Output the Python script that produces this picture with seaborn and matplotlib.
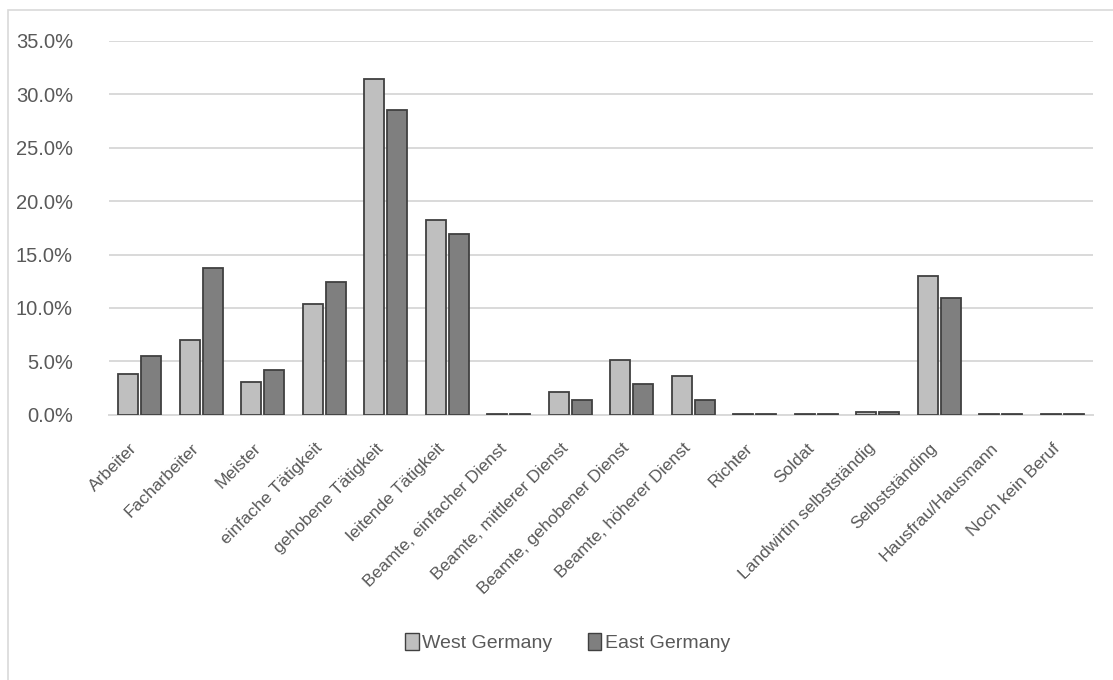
import matplotlib
matplotlib.use("Agg")
import matplotlib.pyplot as plt
import matplotlib.transforms as mtransforms
from matplotlib.patches import Rectangle, Patch
from matplotlib.ticker import FuncFormatter, MultipleLocator
import seaborn as sns
import pandas as pd

categories = [
    "Arbeiter", "Facharbeiter", "Meister", "einfache Tätigkeit",
    "gehobene Tätigkeit", "leitende Tätigkeit", "Beamte, einfacher Dienst",
    "Beamte, mittlerer Dienst", "Beamte, gehobener Dienst",
    "Beamte, höherer Dienst", "Richter", "Soldat",
    "Landwirtin selbstständig", "Selbstständing", "Hausfrau/Hausmann",
    "Noch kein Beruf",
]
west = [3.8, 7.0, 3.05, 10.35, 31.4, 18.2, 0.1, 2.15, 5.1, 3.6, 0.1, 0.1, 0.3, 13.0, 0.1, 0.1]
east = [5.5, 13.7, 4.2, 12.4, 28.5, 16.9, 0.1, 1.4, 2.85, 1.4, 0.1, 0.1, 0.3, 10.9, 0.1, 0.1]
series = ["West Germany", "East Germany"]

df = pd.DataFrame({
    "Beruf": categories * 2,
    "Anteil": west + east,
    "Region": [series[0]] * len(categories) + [series[1]] * len(categories),
})

sns.set_theme(style="white")
plt.rcParams["font.family"] = ["Liberation Sans", "DejaVu Sans"]

text_col = "#595959"
grid_col = "#d9d9d9"
palette = {series[0]: "#bfbfbf", series[1]: "#7f7f7f"}

fig = plt.figure(figsize=(11.13, 6.8), dpi=100)
ax = fig.add_axes([0.098, 0.390, 0.884, 0.550])

sns.barplot(
    data=df, x="Beruf", y="Anteil", hue="Region", order=categories,
    hue_order=series, palette=palette, width=0.75, gap=0.13,
    edgecolor="#404040", linewidth=1.3, ax=ax, legend=False, zorder=3,
)

ax.set_ylim(0, 35)
ax.set_xlim(-0.5, len(categories) - 0.5)
ax.yaxis.set_major_locator(MultipleLocator(5))
ax.yaxis.set_major_formatter(FuncFormatter(lambda v, p: f"{v:.1f}%"))
ax.grid(axis="y", color=grid_col, linewidth=1.4, zorder=0)
ax.grid(axis="x", visible=False)
for s in ["top", "right", "left"]:
    ax.spines[s].set_visible(False)
ax.spines["bottom"].set_color(grid_col)
ax.spines["bottom"].set_linewidth(1.4)
ax.set_xlabel("")
ax.set_ylabel("")
ax.tick_params(axis="y", length=0, pad=26, labelsize=14.5, labelcolor=text_col)
ax.tick_params(axis="x", length=0, pad=15, labelsize=12.5, labelcolor=text_col)

# nudge the slanted category labels a little left and down
shift = mtransforms.ScaledTranslation(-10 / 100, -5 / 100, fig.dpi_scale_trans)
for lab in ax.get_xticklabels():
    lab.set_rotation(45)
    lab.set_ha("right")
    lab.set_rotation_mode("anchor")
    lab.set_transform(lab.get_transform() + shift)

handles = [Patch(facecolor=palette[s], edgecolor="#404040", linewidth=1.0) for s in series]
fig.legend(
    handles, series, loc="center", bbox_to_anchor=(0.51, 0.055), ncol=2,
    frameon=False, fontsize=14, handlelength=0.7, handleheight=1.0,
    handletextpad=0.2, columnspacing=1.8, labelcolor=text_col,
)

fig.patches.append(Rectangle(
    (8 / 1113, -0.01), 1.02, 1 - 10 / 680 + 0.01, transform=fig.transFigure,
    fill=False, edgecolor="#d9d9d9", linewidth=1.2, zorder=0,
))

fig.savefig("out.png", dpi=100, facecolor="white")
